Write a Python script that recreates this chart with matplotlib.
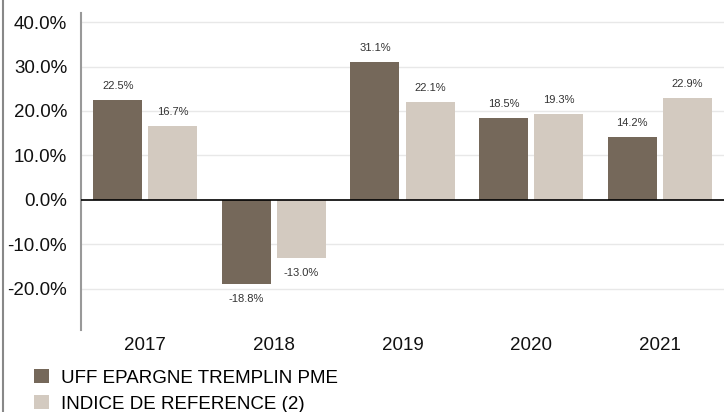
import numpy as np
import matplotlib
matplotlib.use("Agg")
import matplotlib.pyplot as plt
from matplotlib.lines import Line2D

plt.rcParams["font.family"] = ["Liberation Sans", "DejaVu Sans"]

years = ["2017", "2018", "2019", "2020", "2021"]
fund = [22.5, -18.8, 31.1, 18.5, 14.2]
index = [16.7, -13.0, 22.1, 19.3, 22.9]
series_names = ["UFF EPARGNE TREMPLIN PME", "INDICE DE REFERENCE (2)"]
yticks = [-20, -10, 0, 10, 20, 30, 40]

c_fund = "#75685a"
c_index = "#d3cac0"

fig = plt.figure(figsize=(7.24, 4.12), dpi=100)
ax = fig.add_axes([81/724, 82/412, 643/724, 317.3/412])

x = np.arange(len(years))
w = 0.381
off = 0.214
b1 = ax.bar(x - off, fund, w, color=c_fund, label=series_names[0], zorder=3)
b2 = ax.bar(x + off, index, w, color=c_index, label=series_names[1], zorder=3)

for bars, vals in ((b1, fund), (b2, index)):
    for r, v in zip(bars, vals):
        cx = r.get_x() + r.get_width() / 2
        if v >= 0:
            ax.annotate(f"{v:.1f}%", (cx, v), xytext=(0, 10), textcoords="offset points",
                        ha="center", va="center", fontsize=8, color="#333333")
        else:
            ax.annotate(f"{v:.1f}%", (cx, v), xytext=(0, -11), textcoords="offset points",
                        ha="center", va="center", fontsize=8, color="#333333")

ax.set_xlim(-0.5, 4.5)
ax.set_ylim(-29.25, 42.1)
ax.set_yticks(yticks)
ax.set_yticklabels([f"{t:.1f}%" for t in yticks])
ax.set_xticks(x)
ax.set_xticklabels(years)
ax.tick_params(axis="both", length=0, labelsize=13.5, colors="#111111")
ax.tick_params(axis="y", pad=10)
ax.tick_params(axis="x", pad=5)

for t in yticks:
    if t != 0:
        ax.axhline(t, color="#e8e8e8", lw=1, zorder=1)
ax.axhline(0, color="black", lw=1.2, zorder=4)

for s in ("top", "right", "bottom"):
    ax.spines[s].set_visible(False)
ax.spines["left"].set_color("#999999")
ax.spines["left"].set_linewidth(1.5)

fig.add_artist(Line2D([2.5/724, 2.5/724], [0, 1], transform=fig.transFigure,
                      color="#888888", lw=1.5))

fig.legend(handles=[b1, b2], loc="upper left", bbox_to_anchor=(34/724, 1 - 369/412),
           frameon=False, fontsize=13.5, borderpad=0, borderaxespad=0,
           handlelength=0.8, handleheight=0.8, handletextpad=0.65, labelspacing=0.45)

fig.savefig("out.png", dpi=100)
